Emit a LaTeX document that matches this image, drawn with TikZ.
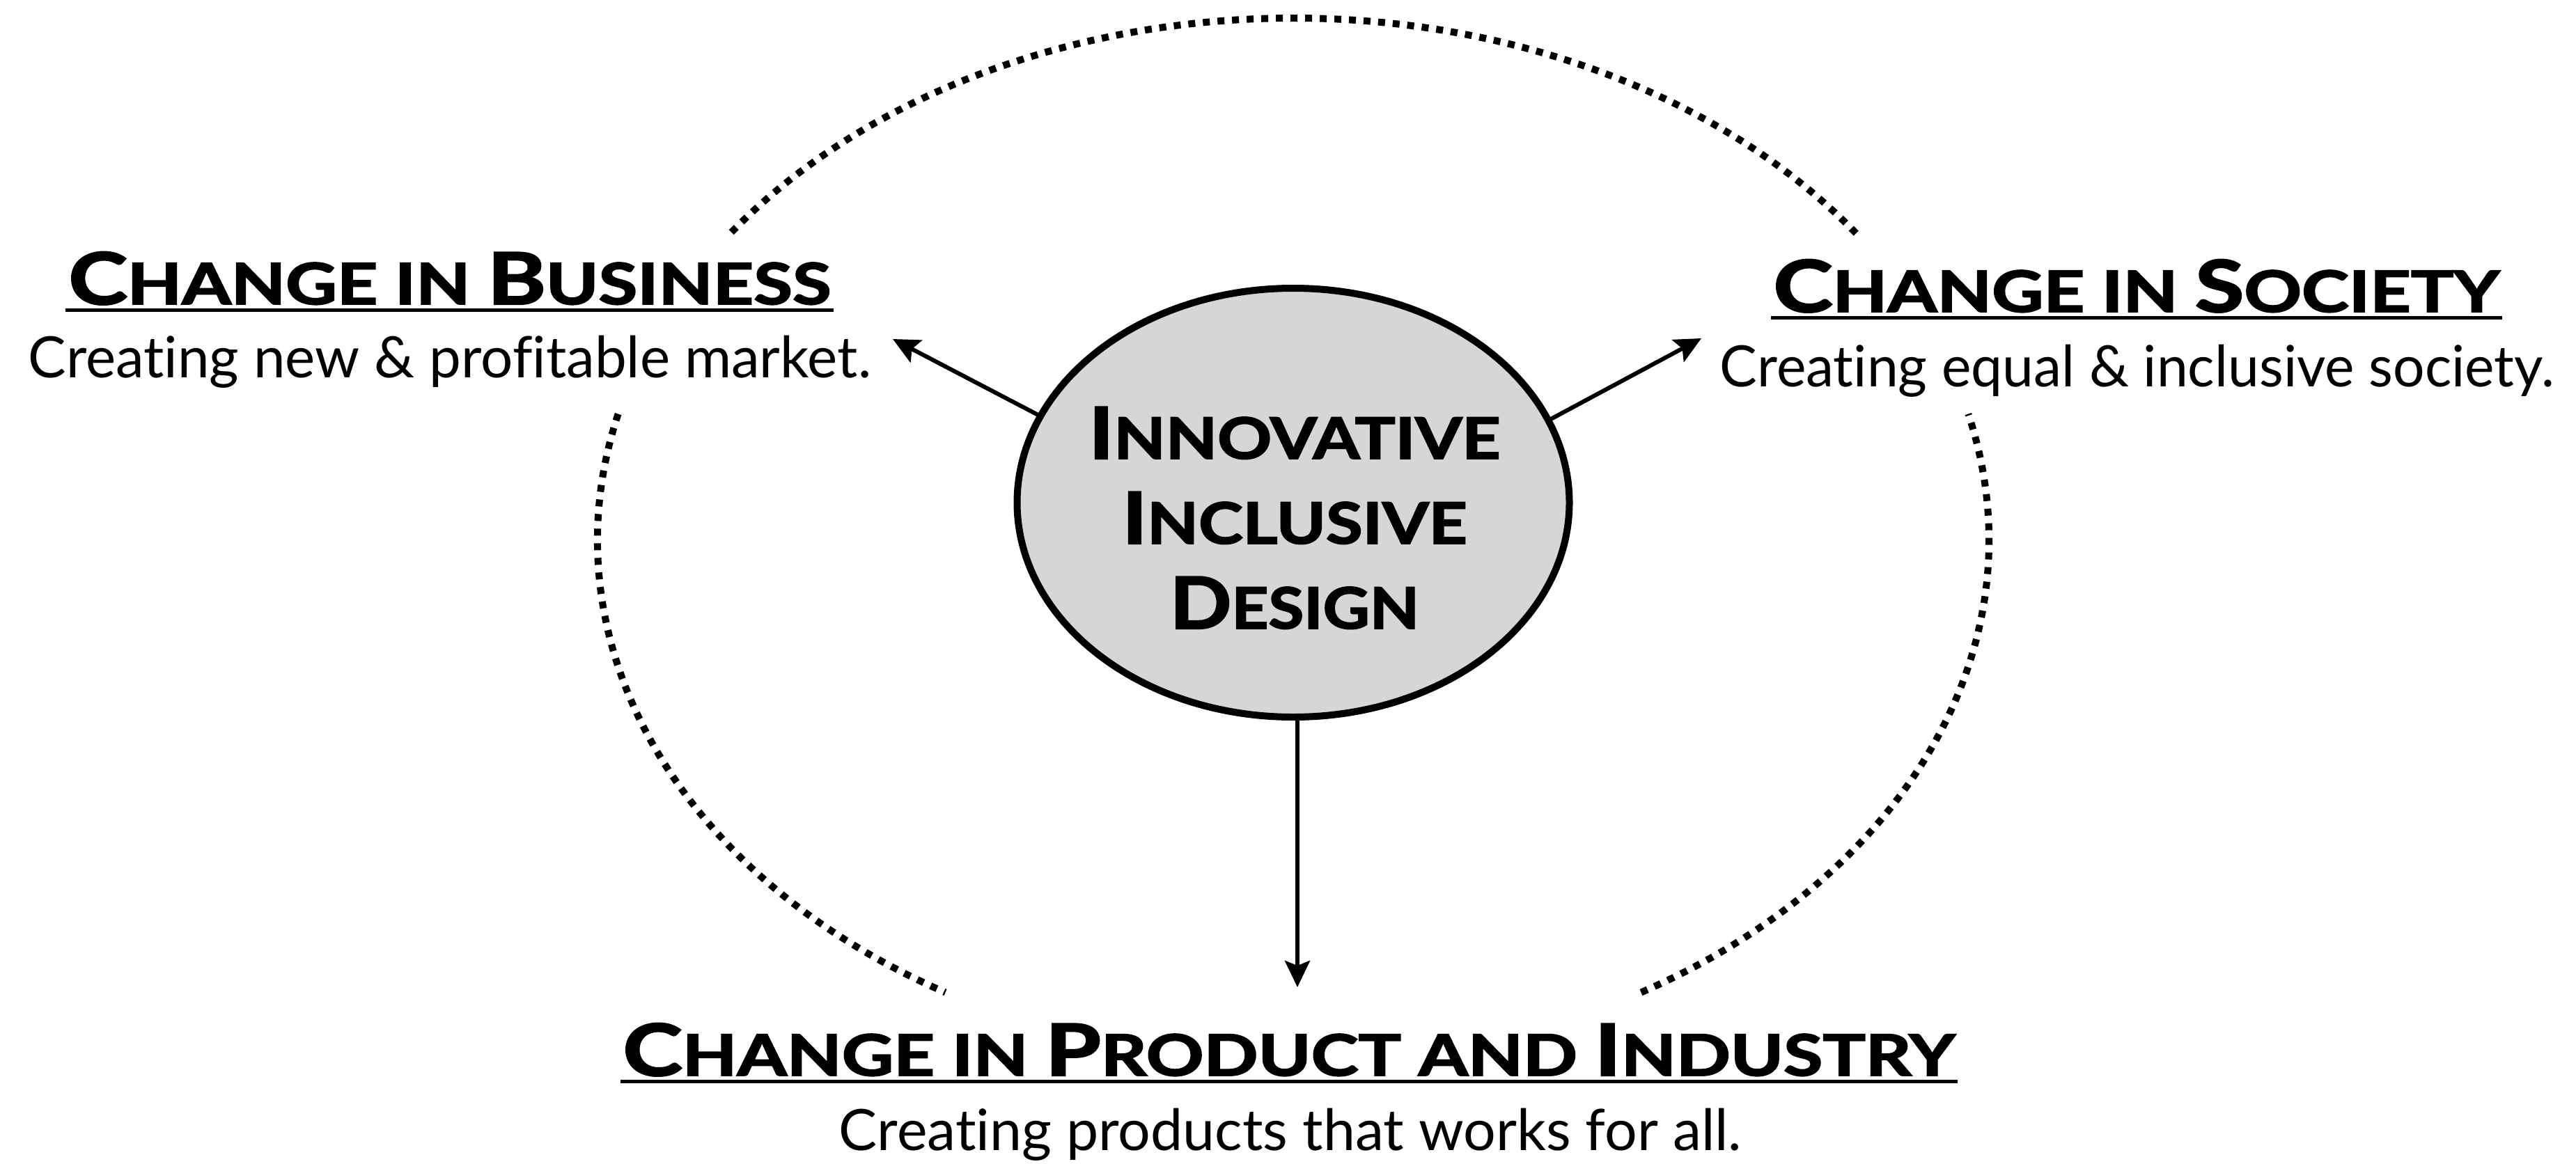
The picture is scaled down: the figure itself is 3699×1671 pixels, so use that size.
\documentclass[tikz,border=0pt]{standalone}
\usepackage{fontspec}
\setmainfont{Lato}[Ligatures={NoCommon},BoldFeatures={FakeBold=2.2}]
\usepackage{graphicx}
\usetikzlibrary{arrows.meta,shapes.geometric}
\definecolor{ellgray}{RGB}{214,214,214}
\newcommand\BigC[1]{{\fontsize{103}{122}\selectfont #1}}
\newcommand\SmC[1]{{\fontsize{82}{122}\selectfont #1}}
\newcommand\fitto[2]{\resizebox{#1pt}{\height}{#2}}
\begin{document}
\begin{tikzpicture}[x=1pt,y=1pt,
  dots/.style={line width=10pt, dash pattern=on 10pt off 11pt},
  conn/.style={line width=6pt, -{Stealth[length=38pt,width=36pt,inset=7pt]}},
  uline/.style={line width=5pt},
  title/.style={inner sep=0pt, anchor=base, font=\bfseries},
  body/.style={inner sep=0pt, anchor=base, font=\fontsize{82}{100}\selectfont},
]
\useasboundingbox (0,0) rectangle (3699,-1671);
% dotted ring
\coordinate (ring) at (1857,-776);
\draw[dots] ([shift={(36:999 and 750)}]ring) arc[start angle=36, end angle=144, x radius=999, y radius=750];
\draw[dots] ([shift={(166:999 and 750)}]ring) arc[start angle=166, end angle=240, x radius=999, y radius=750];
\draw[dots] ([shift={(300:999 and 750)}]ring) arc[start angle=300, end angle=374, x radius=999, y radius=750];
% centre ellipse
\node[ellipse, draw, line width=10pt, fill=ellgray, minimum width=793pt, minimum height=616pt, inner sep=0pt] (ell) at (1857,-722) {};
\node[inner sep=0pt, align=center, font=\bfseries\fontsize{82}{122}\selectfont] (ctext) at (1859,-744)
  {\fitto{591}{\BigC{I}\SmC{NNOVATIVE}}\\
   \fitto{495}{\BigC{I}\SmC{NCLUSIVE}}\\
   \fitto{358}{\BigC{D}\SmC{ESIGN}}};
% titles
\node[title] (tB) at (646,-437) {\fitto{1095}{\BigC{C}\SmC{HANGE IN }\BigC{B}\SmC{USINESS}}};
\node[body] (bB) at (646,-542) {\fitto{1210}{Creating new \& profitable market.}};
\node[title] (tS) at (3068,-448) {\fitto{1043}{\BigC{C}\SmC{HANGE IN }\BigC{S}\SmC{OCIETY}}};
\node[body] (bS) at (3069,-555) {\fitto{1198}{Creating equal \& inclusive society.}};
\node[title] (tP) at (1851,-1545) {\fitto{1913}{\BigC{C}\SmC{HANGE IN }\BigC{P}\SmC{RODUCT AND }\BigC{I}\SmC{NDUSTRY}}};
\node[body] (bP) at (1853,-1652) {\fitto{1296}{Creating products that works for all.}};
% underlines
\draw[uline] ([xshift=-4pt,yshift=-8pt]tB.base west) -- ([xshift=3pt,yshift=-8pt]tB.base east);
\draw[uline] ([xshift=-3pt,yshift=-8pt]tS.base west) -- ([xshift=3pt,yshift=-8pt]tS.base east);
\draw[uline] ([xshift=-3pt,yshift=-8pt]tP.base west) -- ([xshift=3pt,yshift=-8pt]tP.base east);
% arrows
\coordinate (tipB) at (1282,-487);
\coordinate (tipS) at (2443,-486);
\coordinate (tipP) at (1863,-1418);
\draw[conn] (ell.161) -- (tipB);
\draw[conn] (ell.18) -- (tipS);
\draw[conn] (ell.south -| tipP) -- (tipP);
\end{tikzpicture}
\end{document}
